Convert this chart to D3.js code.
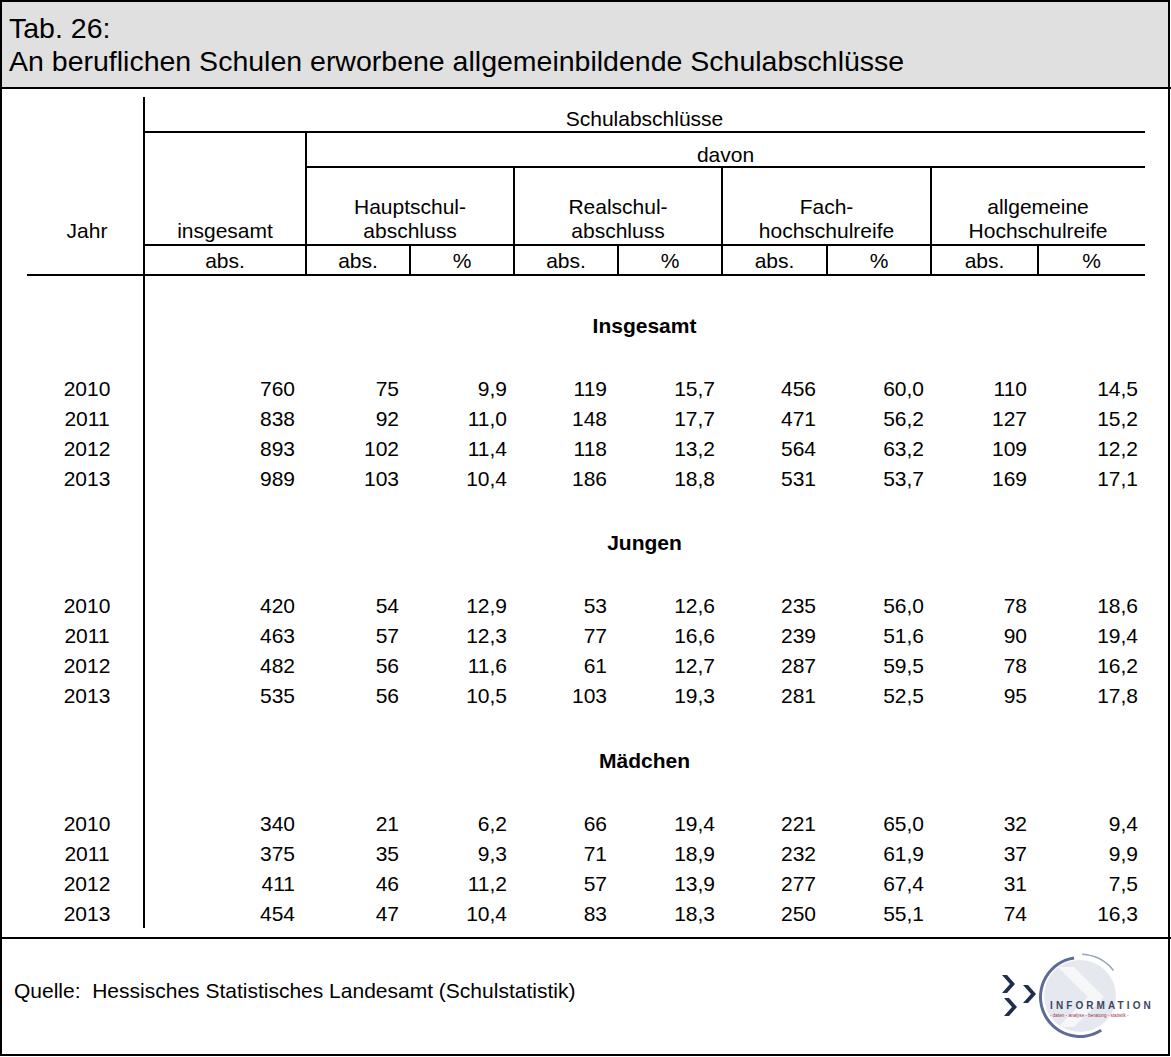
<!DOCTYPE html>
<html>
<head>
<meta charset="utf-8">
<script src="https://cdn.jsdelivr.net/npm/d3@7"></script>
<style>
  body { margin: 0; background: #fff; }
  svg text { font-family: "Liberation Sans", Arial, sans-serif; fill: #000; white-space: pre; }
</style>
</head>
<body>
<svg id="chart" width="1171" height="1057"></svg>
<script>
// data
const years = ['2010', '2011', '2012', '2013'];
const groups = ['Insgesamt', 'Jungen', 'Mädchen'];
// columns: insgesamt, Haupt abs/%, Real abs/%, Fach abs/%, allg. HSR abs/%
const insgesamtRows = [
    [760, 75, 9.9, 119, 15.7, 456, 60.0, 110, 14.5],
    [838, 92, 11.0, 148, 17.7, 471, 56.2, 127, 15.2],
    [893, 102, 11.4, 118, 13.2, 564, 63.2, 109, 12.2],
    [989, 103, 10.4, 186, 18.8, 531, 53.7, 169, 17.1]
];
const jungenRows = [
    [420, 54, 12.9, 53, 12.6, 235, 56.0, 78, 18.6],
    [463, 57, 12.3, 77, 16.6, 239, 51.6, 90, 19.4],
    [482, 56, 11.6, 61, 12.7, 287, 59.5, 78, 16.2],
    [535, 56, 10.5, 103, 19.3, 281, 52.5, 95, 17.8]
];
const maedchenRows = [
    [340, 21, 6.2, 66, 19.4, 221, 65.0, 32, 9.4],
    [375, 35, 9.3, 71, 18.9, 232, 61.9, 37, 9.9],
    [411, 46, 11.2, 57, 13.9, 277, 67.4, 31, 7.5],
    [454, 47, 10.4, 83, 18.3, 250, 55.1, 74, 16.3]
];
const groupRows = [insgesamtRows, jungenRows, maedchenRows];
const colKinds = ['abs', 'abs', 'pct', 'abs', 'pct', 'abs', 'pct', 'abs', 'pct'];
const degreeLabels = [
    ['Hauptschul-', 'abschluss'],
    ['Realschul-', 'abschluss'],
    ['Fach-', 'hochschulreife'],
    ['allgemeine', 'Hochschulreife']
];
const titleLines = ['Tab. 26:', 'An beruflichen Schulen erworbene allgemeinbildende Schulabschlüsse'];
const sourceText = 'Quelle:  Hessisches Statistisches Landesamt (Schulstatistik)';

// layout
const W = 1171, H = 1057;
const FS = 21;
const tableLeft = 144, tableRight = 1145;
const degreeEdges = [306, 514, 722, 931, 1145];
const lineY = { top: 97, schul: 132, davon: 167, unit: 245, head: 275, end: 928, foot: 938 };

const de = d3.formatLocale({ decimal: ',', thousands: '.', grouping: [3], currency: ['', ' €'] });
const fmtPct = de.format('.1f');
const fmtAbs = de.format('d');

const svg = d3.select('#chart');

// column right edges (value columns) and centres
const colRight = [306];
degreeEdges.slice(0, 4).forEach((l, i) => {
    const r = degreeEdges[i + 1];
    colRight.push(Math.round((l + r) / 2), r);
});
const colLeft = [tableLeft].concat(colRight.slice(0, -1));
const xRight = d3.scaleOrdinal().domain(d3.range(9)).range(colRight);
const xCenter = d3.scaleOrdinal().domain(d3.range(9)).range(colRight.map((r, i) => (r + colLeft[i]) / 2));

// rows
const blockY = d3.scaleLinear().domain([0, 1]).range([325, 542.5]);
const rowY = d3.scaleLinear().domain([0, 1]).range([63, 93]);

// frame + title
svg.append('rect').attr('x', 1).attr('y', 1).attr('width', W - 3).attr('height', 87)
    .attr('fill', '#e0e0e0');
svg.append('rect').attr('x', 1).attr('y', 1).attr('width', W - 3).attr('height', H - 3)
    .attr('fill', 'none').attr('stroke', '#000').attr('stroke-width', 2);
svg.append('line').attr('x1', 0).attr('x2', W).attr('y1', 88).attr('y2', 88)
    .attr('stroke', '#000').attr('stroke-width', 2);
svg.selectAll('text.title').data(titleLines).join('text')
    .attr('class', 'title')
    .attr('x', 9).attr('y', (d, i) => 38 + i * 33)
    .style('font-size', '28.5px')
    .text(d => d);

// grid lines
const hLines = [
    [tableLeft, tableRight, lineY.schul],
    [degreeEdges[0], tableRight, lineY.davon],
    [tableLeft, tableRight, lineY.unit],
    [27, tableRight, lineY.head],
    [0, W, lineY.foot]
];
const vLines = [[tableLeft, lineY.top, lineY.end], [degreeEdges[0], lineY.schul, lineY.head]];
degreeEdges.slice(1, 4).forEach(x => vLines.push([x, lineY.davon, lineY.head]));
colRight.forEach((x, i) => { if (colKinds[i] === 'abs' && i > 0) vLines.push([x, lineY.unit, lineY.head]); });

svg.selectAll('line.h').data(hLines).join('line').attr('class', 'h')
    .attr('x1', d => d[0]).attr('x2', d => d[1]).attr('y1', d => d[2]).attr('y2', d => d[2])
    .attr('stroke', '#000').attr('stroke-width', 2);
svg.selectAll('line.v').data(vLines).join('line').attr('class', 'v')
    .attr('x1', d => d[0]).attr('x2', d => d[0]).attr('y1', d => d[1]).attr('y2', d => d[2])
    .attr('stroke', '#000').attr('stroke-width', 2);

// header text
function label(x, y, txt, anchor, weight) {
    return svg.append('text').attr('x', x).attr('y', y)
        .attr('text-anchor', anchor || 'middle')
        .style('font-size', FS + 'px')
        .style('font-weight', weight || 'normal')
        .text(txt);
}
label((tableLeft + tableRight) / 2, 126, 'Schulabschlüsse');
label((degreeEdges[0] + tableRight) / 2, 162, 'davon');
degreeLabels.forEach((lines, i) => {
    const cx = (degreeEdges[i] + degreeEdges[i + 1]) / 2;
    label(cx, 214, lines[0]);
    label(cx, 238, lines[1]);
});
label(87, 238, 'Jahr');
label(xCenter(0), 238, 'insgesamt');
colKinds.forEach((k, i) => label(xCenter(i), 268, k === 'abs' ? 'abs.' : '%'));

// body
groups.forEach((g, gi) => {
    const gy = blockY(gi);
    label((tableLeft + tableRight) / 2, gy + 7.5, g, 'middle', 'bold');
    groupRows[gi].forEach((row, ri) => {
        const y = gy + rowY(ri) + 7.5;
        label(87, y, years[ri]);
        row.forEach((v, ci) => {
            const pad = colKinds[ci] === 'abs' ? 11 : 7;
            label(xRight(ci) - pad, y, colKinds[ci] === 'abs' ? fmtAbs(v) : fmtPct(v), 'end');
        });
    });
});

// footer
label(14, 998, sourceText, 'start');

// logo
const logo = svg.append('g').attr('transform', 'translate(1000,955)');
logo.append('circle').attr('cx', 80).attr('cy', 41).attr('r', 36).attr('fill', '#e6e8ef');
logo.append('path')
    .attr('d', 'M58,12 L74,12 L104,42 L74,72 L58,72 L88,42 Z')
    .attr('fill', '#f7f7fa');
logo.append('path')
    .attr('d', d3.arc()({ innerRadius: 38, outerRadius: 41, startAngle: -0.15, endAngle: -Math.PI * 1.18 }))
    .attr('transform', 'translate(80,42)')
    .attr('fill', '#5d6b95');
logo.append('path')
    .attr('d', d3.arc()({ innerRadius: 42, outerRadius: 43.5, startAngle: 0.05, endAngle: 0.9 }))
    .attr('transform', 'translate(80,42)')
    .attr('fill', '#9aa3c0');
const chev = 'M0,0 L5,0 L13,9 L5,18 L0,18 L8,9 Z';
[[2, 20], [23, 30], [4, 43]].forEach(p => {
    logo.append('path').attr('d', chev).attr('transform', `translate(${p[0]},${p[1]})`).attr('fill', '#1e2f4d');
});
logo.append('text').attr('x', 50).attr('y', 54)
    .style('font-size', '10px').style('font-weight', 'bold').style('letter-spacing', '3.1px')
    .style('fill', '#3c4660').text('INFORMATION');
logo.append('text').attr('x', 50).attr('y', 62)
    .style('font-size', '4.6px').style('fill', '#a03545')
    .text('- daten - analyse - beratung - statistik -');
</script>
</body>
</html>
